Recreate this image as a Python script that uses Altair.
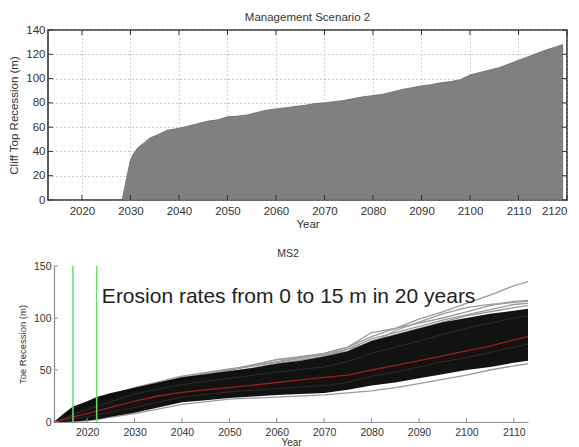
import altair as alt
import pandas as pd

FONT = "Liberation Sans"
TXT = "#333333"

# ---------------- Top panel: Management Scenario 2 (cliff top recession) ----------------
top_years = [2013, 2028.3, 2028.8, 2029.3, 2030, 2030.7, 2031.5, 2032.8, 2034, 2035.5, 2037.6,
             2040, 2042, 2044, 2046, 2048, 2050, 2052, 2054, 2056, 2058, 2060, 2062, 2064,
             2066, 2068, 2070, 2072, 2074, 2076, 2078, 2080, 2082, 2084, 2086, 2088, 2090,
             2092, 2094, 2096, 2098, 2100, 2102, 2104, 2106, 2108, 2110, 2112, 2114, 2116,
             2118, 2119.1]
top_values = [0, 0, 10, 20, 33, 38.5, 43, 47, 51, 53.5, 57.5,
              59, 61, 63, 65, 66, 68.5, 69, 70, 72, 74, 75, 76, 77,
              78, 79.5, 80, 81, 82, 83.5, 85, 86, 87, 89, 91, 92.5, 94,
              95, 96.5, 97.5, 99, 103, 105, 107, 109, 112, 115, 118, 121, 124,
              126.5, 128]
top_xticks = [2020, 2030, 2040, 2050, 2060, 2070, 2080, 2090, 2100, 2110, 2120]
top_yticks = [0, 20, 40, 60, 80, 100, 120, 140]

# ---------------- Bottom panel: MS2 (toe recession) ----------------
ms_years = [2013, 2015, 2017, 2020, 2022, 2025, 2030, 2035, 2040, 2045, 2050, 2055, 2060,
            2065, 2070, 2075, 2080, 2085, 2090, 2095, 2100, 2105, 2110, 2113]
band_upper = [0, 8, 15, 20, 24, 28, 33, 38, 43, 46, 49, 52, 56,
              59, 63, 68, 78, 84, 90, 96, 100, 104, 107, 109]
band_lower = [0, 0, 0.5, 1.5, 2.5, 5, 9, 14, 19, 21, 23, 24.5, 26,
              27, 28, 31, 35, 38, 42, 46, 50, 53, 57, 59]
mean_line = [0, 2.5, 5, 8, 10.5, 14, 20, 25, 28.5, 31, 33, 35.5, 38,
             40.5, 43, 45, 50, 54.5, 59, 63.5, 68.5, 73, 79, 82]

path_years = [2013, 2020, 2030, 2040, 2050, 2060, 2070, 2075, 2080, 2085, 2090, 2095,
              2100, 2105, 2110, 2113]
path_a = [0, 19, 32, 43, 50, 58, 66, 72, 82, 90, 99, 106, 114, 122, 131, 135]
path_b = [0, 18, 32, 42, 50, 60, 66, 72, 86, 90, 95, 100, 106, 112, 116, 117]
path_c = [0, 18, 31, 41, 48, 56, 63, 70, 80, 86, 92, 98, 103, 108, 113, 114]
path_d = [0, 17, 31, 42, 50, 60, 64, 68, 78, 84, 90, 96, 102, 106, 110, 112]
path_e = [0, 1, 8, 17, 22, 24, 26, 28, 30, 33, 37, 41, 45, 50, 54, 56]
path_f = [0, 19, 33, 44, 51, 57, 65, 70, 76, 88, 96, 104, 110, 113, 115, 116]
# darker strands visible inside the dense black bundle
path_g = [0, 12, 27, 36, 42, 48, 53, 58, 66, 72, 78, 84, 90, 95, 100, 102]
path_h = [0, 5, 14, 24, 29, 32, 35, 38, 44, 48, 53, 58, 62, 67, 72, 75]

ms_xticks = [2020, 2030, 2040, 2050, 2060, 2070, 2080, 2090, 2100, 2110]
ms_yticks = [0, 50, 100, 150]
green_years = [2017, 2022]
note_text = ["Erosion rates from 0 to 15 m in 20 years"]
note_year = [2023.1]
note_value = [114]

# ---------------- sizes ----------------
TW, TH = 519, 170
BW, BH = 480, 156
BOFF = 6  # bottom panel's axes start this far right of the top panel's frame

top_df = pd.DataFrame({"year": top_years, "value": top_values})
top_xt = pd.DataFrame({"year": top_xticks})
top_yt = pd.DataFrame({"value": top_yticks})

tx = alt.Scale(domain=[2013, 2120], nice=False, zero=False)
ty = alt.Scale(domain=[0, 140], nice=False)

tax_x = alt.Axis(
    values=top_xticks, format="d", title="Year", grid=True, gridDash=[1, 3],
    gridColor="#9a9a9a", gridWidth=1, domain=False, ticks=False, labelPadding=5,
    labelFontSize=11.5, labelFont=FONT, labelColor=TXT, titleFont=FONT,
    titleFontSize=11.5, titleFontWeight="normal", titleColor=TXT, titlePadding=2)
tax_y = alt.Axis(
    values=top_yticks, title="Cliff Top Recession (m)", grid=True, gridDash=[1, 3],
    gridColor="#9a9a9a", gridWidth=1, domain=False, ticks=False, labelPadding=3,
    labelFontSize=11.5, labelFont=FONT, labelColor=TXT, titleFont=FONT,
    titleFontSize=11.5, titleFontWeight="normal", titleColor=TXT, titlePadding=6)

top_area = alt.Chart(top_df).mark_area(
    fill="#808080", stroke="#666666", strokeWidth=0.8
).encode(
    x=alt.X("year:Q", scale=tx, axis=tax_x),
    y=alt.Y("value:Q", scale=ty, axis=tax_y),
)

tick_c = "#333333"
t_bot = alt.Chart(top_xt).mark_rule(color=tick_c).encode(
    x=alt.X("year:Q", scale=tx, axis=tax_x), y=alt.value(TH), y2=alt.value(TH - 5))
t_top = alt.Chart(top_xt).mark_rule(color=tick_c).encode(
    x=alt.X("year:Q", scale=tx, axis=tax_x), y=alt.value(0), y2=alt.value(5))
t_left = alt.Chart(top_yt).mark_rule(color=tick_c).encode(
    y=alt.Y("value:Q", scale=ty, axis=tax_y), x=alt.value(0), x2=alt.value(5))
t_right = alt.Chart(top_yt).mark_rule(color=tick_c).encode(
    y=alt.Y("value:Q", scale=ty, axis=tax_y), x=alt.value(TW), x2=alt.value(TW - 5))

top = alt.layer(top_area, t_bot, t_top, t_left, t_right).properties(
    width=TW, height=TH,
    title=alt.TitleParams("Management Scenario 2", font=FONT, fontSize=11.5,
                          fontWeight="normal", color=TXT, offset=1),
    view=alt.ViewBackground(stroke="#333333", strokeWidth=1.6),
)

# ---------------- bottom chart ----------------
bx = alt.Scale(domain=[2013, 2113], nice=False, zero=False, range=[BOFF, BW])
by = alt.Scale(domain=[0, 150], nice=False)

band_df = pd.DataFrame({"year": ms_years, "value": band_upper, "lower": band_lower})
paths = {"a": path_a, "b": path_b, "c": path_c, "d": path_d, "e": path_e, "f": path_f}
rows = []
for name, vals in paths.items():
    for yr, v in zip(path_years, vals):
        rows.append({"path": name, "year": yr, "value": v})
paths_df = pd.DataFrame(rows)
rows = []
for name, vals in {"g": path_g, "h": path_h}.items():
    for yr, v in zip(path_years, vals):
        rows.append({"path": name, "year": yr, "value": v})
inner_df = pd.DataFrame(rows)
mean_df = pd.DataFrame({"year": ms_years, "value": mean_line})
ms_xt = pd.DataFrame({"year": ms_xticks})
ms_yt = pd.DataFrame({"value": ms_yticks})
green_df = pd.DataFrame({"year": green_years})
note_df = pd.DataFrame({"year": note_year, "value": note_value, "text": note_text})

axc = "#8c8c8c"
bax_x = alt.Axis(
    values=ms_xticks, format="d", title="Year", grid=False, domainColor=axc,
    domainWidth=1.2, ticks=False, labelPadding=5, labelFontSize=10.5, labelFont=FONT,
    labelColor=TXT, titleFont=FONT, titleFontSize=10, titleFontWeight="normal",
    titleColor=TXT, titlePadding=0)
bax_y = alt.Axis(
    values=ms_yticks, title="Toe Recession (m)", grid=False, domainColor=axc,
    domainWidth=1.2, ticks=False, labelPadding=3, labelFontSize=10.5, labelFont=FONT,
    labelColor=TXT, titleFont=FONT, titleFontSize=9.5, titleFontWeight="normal",
    titleColor=TXT, titlePadding=6, offset=-BOFF)

gray_lines = alt.Chart(paths_df).mark_line(color="#9a9a9a", strokeWidth=1.3).encode(
    x=alt.X("year:Q", scale=bx, axis=bax_x),
    y=alt.Y("value:Q", scale=by, axis=bax_y),
    detail="path:N",
)
band = alt.Chart(band_df).mark_area(color="#050505", opacity=0.95).encode(
    x=alt.X("year:Q", scale=bx, axis=bax_x),
    y=alt.Y("value:Q", scale=by, axis=bax_y),
    y2="lower:Q",
)
inner = alt.Chart(inner_df).mark_line(color="#3a3a3a", strokeWidth=0.8, opacity=0.8).encode(
    x=alt.X("year:Q", scale=bx, axis=bax_x),
    y=alt.Y("value:Q", scale=by, axis=bax_y),
    detail="path:N",
)
mean = alt.Chart(mean_df).mark_line(color="#a01a1c", strokeWidth=1.3).encode(
    x=alt.X("year:Q", scale=bx, axis=bax_x),
    y=alt.Y("value:Q", scale=by, axis=bax_y),
)
greens = alt.Chart(green_df).mark_rule(color="#66dd66", strokeWidth=1.5).encode(
    x=alt.X("year:Q", scale=bx, axis=bax_x), y=alt.value(0), y2=alt.value(BH))
b_xt = alt.Chart(ms_xt).mark_rule(color=axc).encode(
    x=alt.X("year:Q", scale=bx, axis=bax_x), y=alt.value(BH), y2=alt.value(BH - 4))
b_yt = alt.Chart(ms_yt).mark_rule(color=axc).encode(
    y=alt.Y("value:Q", scale=by, axis=bax_y), x=alt.value(BOFF), x2=alt.value(BOFF + 4))
note = alt.Chart(note_df).mark_text(
    align="left", baseline="alphabetic", font=FONT, fontSize=21, color="#222222"
).encode(
    x=alt.X("year:Q", scale=bx, axis=bax_x),
    y=alt.Y("value:Q", scale=by, axis=bax_y),
    text="text:N",
)

bottom = alt.layer(gray_lines, band, inner, mean, greens, b_xt, b_yt, note).properties(
    width=BW, height=BH,
    title=alt.TitleParams("MS2", font=FONT, fontSize=10.5, fontWeight="normal",
                          color=TXT, offset=2),
)

chart = alt.concat(top, bottom, columns=1, spacing=17).properties(
    padding={"left": 8, "top": 10, "right": 0, "bottom": 0},
    background="white",
).configure_view(strokeWidth=0)

chart.save("out.html", embed_options={"renderer": "svg", "actions": False})
